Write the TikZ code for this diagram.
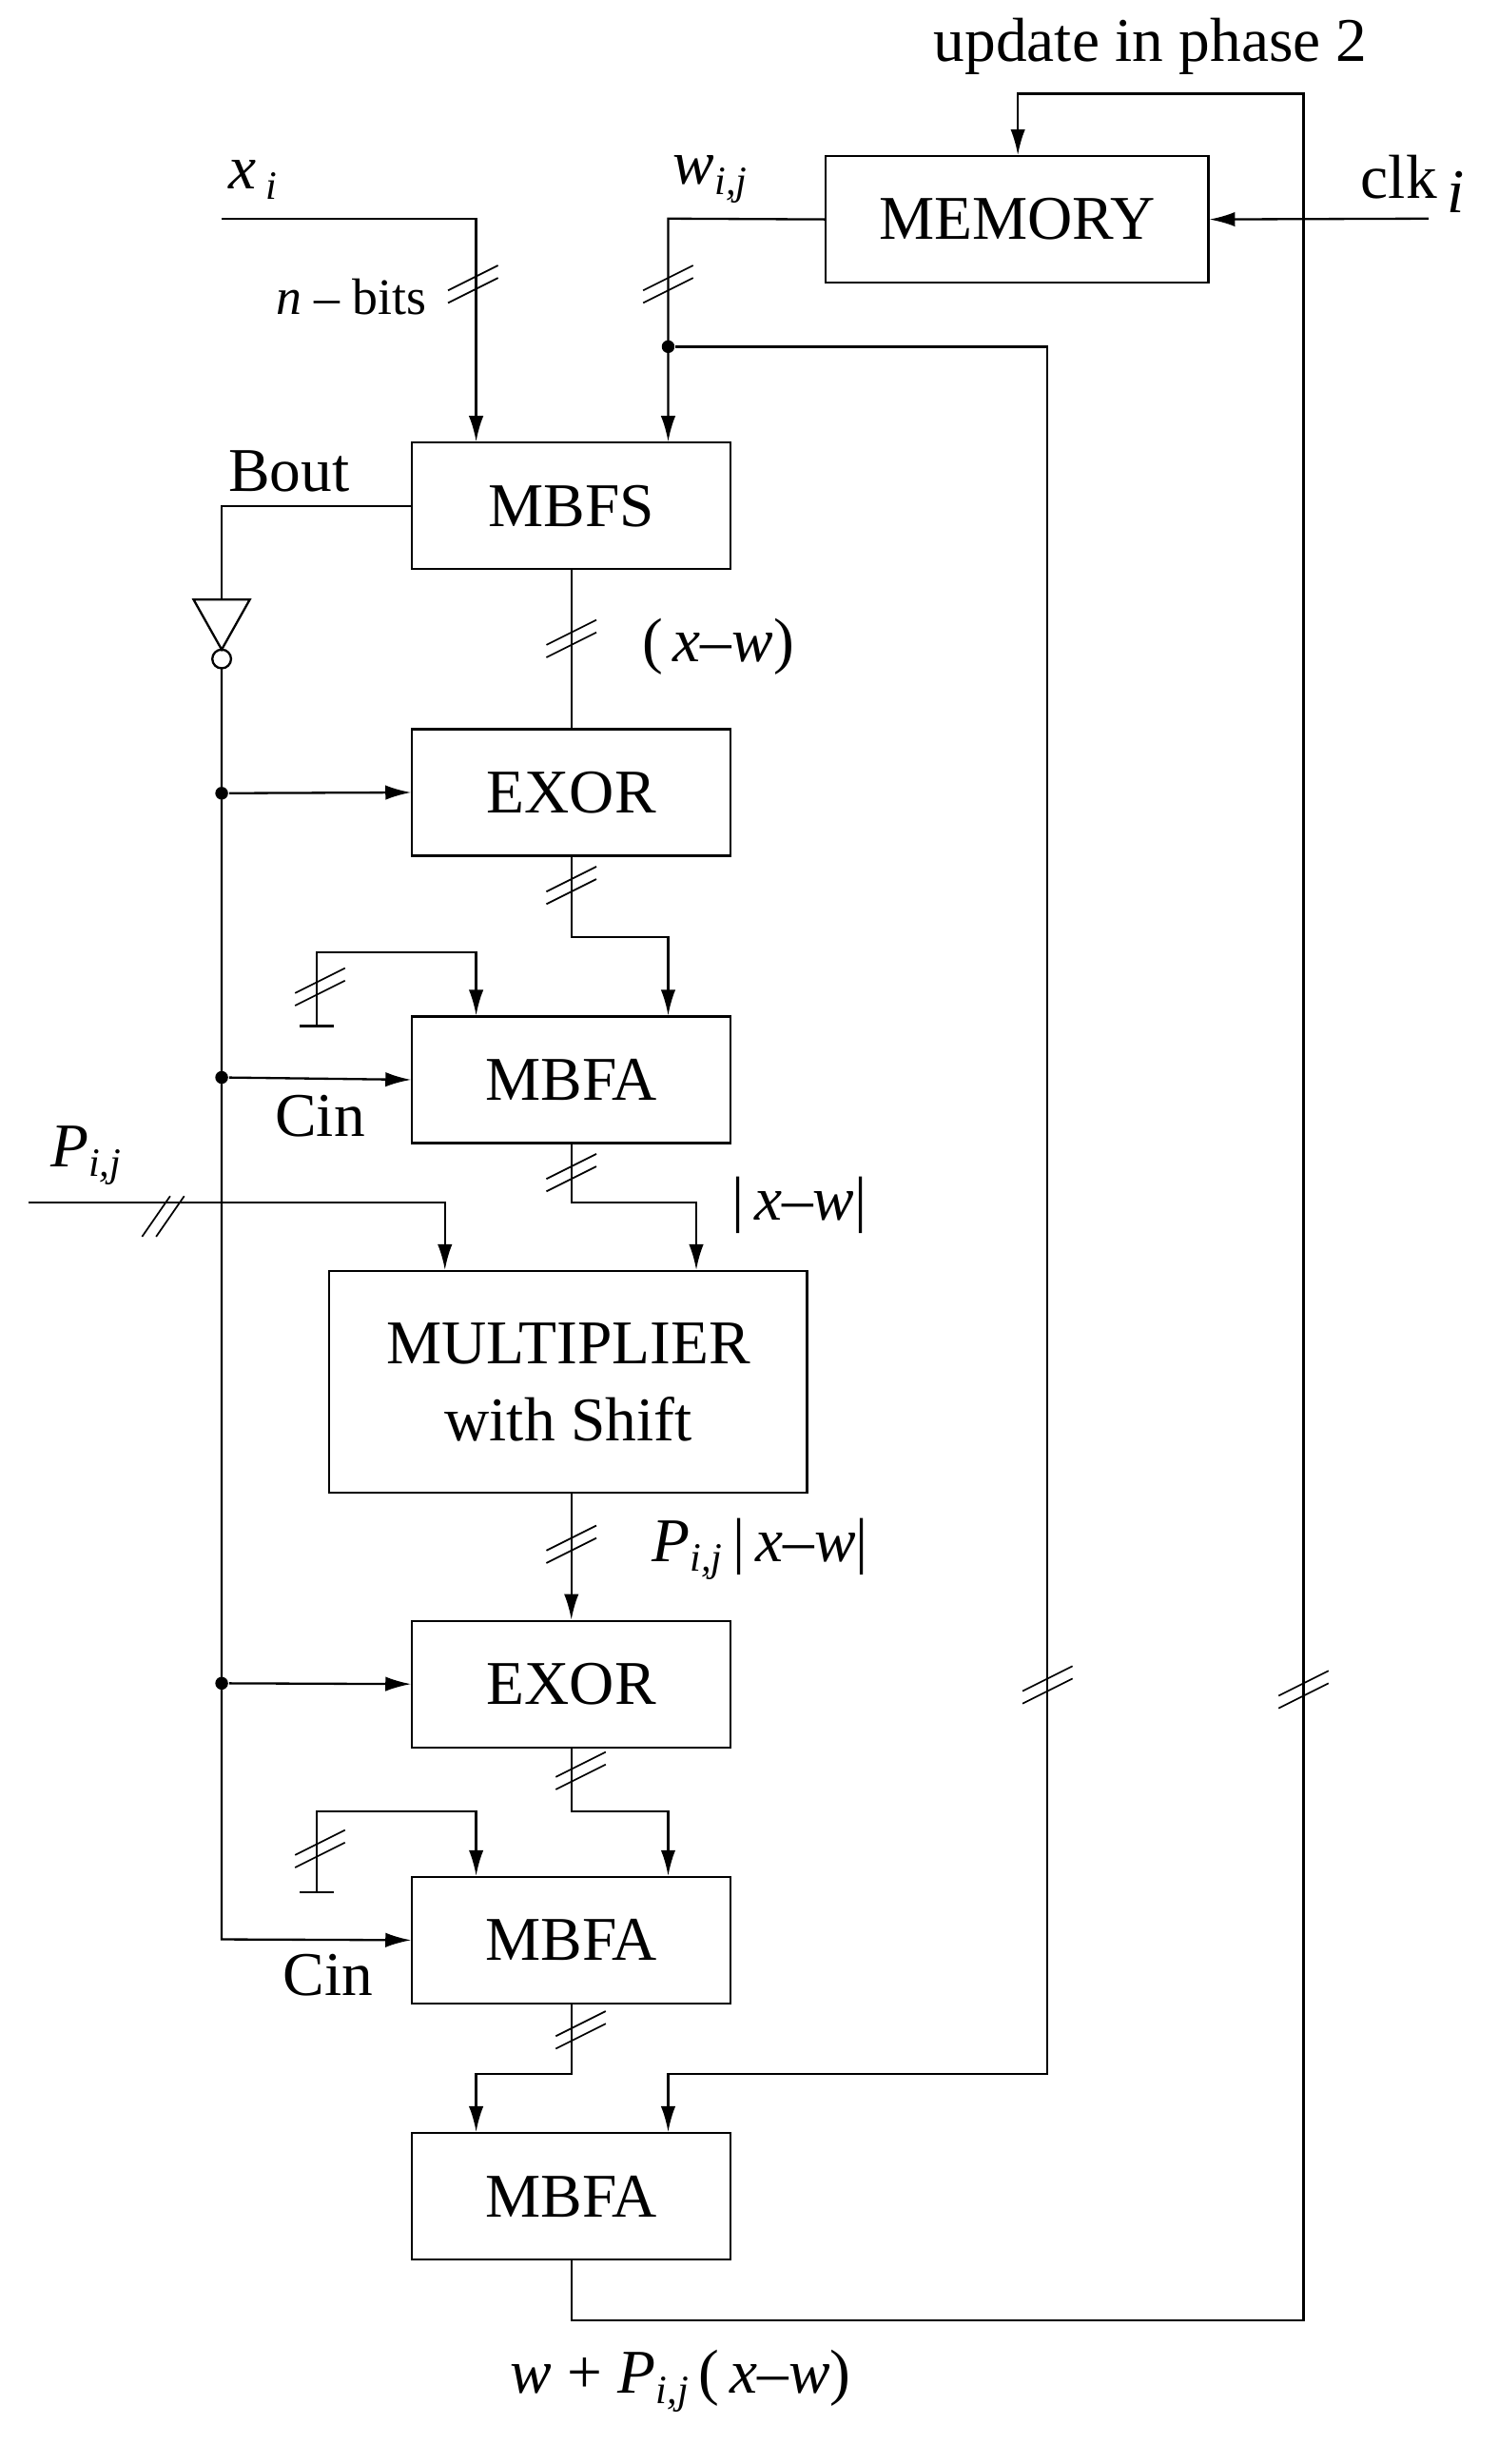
\documentclass[tikz,border=0pt]{standalone}
\usepackage{fontspec}
\setmainfont{Liberation Serif}
\usetikzlibrary{arrows.meta}
\newcommand{\iv}[1]{\textit{#1}}
\newcommand{\sbs}[1]{\raisebox{-0.35ex}{\fontsize{22}{24}\selectfont\textit{#1}}}
\begin{document}
\begin{tikzpicture}[x=0.03cm,y=-0.03cm,line width=1.2pt,
  box/.style={draw,minimum width=204*0.03cm,minimum height=81*0.03cm,inner sep=0pt,font=\fontsize{34}{38}\selectfont},
  lbl/.style={font=\fontsize{34}{38}\selectfont,inner sep=0pt},
  arr/.style={-{Latex[length=14pt,width=8pt]}},
  dot/.style={circle,fill,inner sep=0pt,minimum size=7pt},
  slashv/.pic={\draw[line width=0.9pt] (-16,8)--(16,-8) (-16,16)--(16,0);},
  slashh/.pic={\draw[line width=0.9pt] (-14,14)--(4,-12) (-5,14)--(13,-12);}]
\useasboundingbox (0,0) rectangle (960,1578);
% boxes
\node[box,minimum width=245*0.03cm] (mem) at (651.5,140.5) {MEMORY};
\node[box] (mbfs) at (366,324) {MBFS};
\node[box] (exor1) at (366,507.5) {EXOR};
\node[box] (mbfa1) at (366,691.5) {MBFA};
\node[box,minimum width=306*0.03cm,minimum height=142*0.03cm,align=center] (mult) at (364,885) {MULTIPLIER\\[4pt]with Shift};
\node[box] (exor2) at (366,1078.5) {EXOR};
\node[box] (mbfa2) at (366,1242.5) {MBFA};
\node[box] (mbfa3) at (366,1406.5) {MBFA};
% labels
\node[lbl] (lx) at (162,115) {\iv{x}\,\sbs{i}};
\node[lbl,font=\fontsize{28}{32}\selectfont] (lbits) at (225,190) {\iv{n} -- bits};
\node[lbl] (lw) at (455,115) {\iv{w}\sbs{i,j}};
\node[lbl] (lclk) at (905,118) {clk\,\raisebox{-0.5ex}{\iv{i}}};
\node[lbl] (lupd) at (737,30) {update in phase 2};
\node[lbl] (lbout) at (185,302) {Bout};
\node[lbl] (lxw) at (460,414) {(\,\iv{x}--\iv{w})};
\node[lbl] (lcin1) at (205,715) {Cin};
\node[lbl] (lcin2) at (210,1265) {Cin};
\node[lbl] (labs) at (512,772) {|\,\iv{x}--\iv{w}|};
\node[lbl] (lp) at (55,740) {\iv{P}\sbs{i,j}};
\node[lbl] (lpabs) at (487,992) {\iv{P}\sbs{i,j}\,|\,\iv{x}--\iv{w}|};
\node[lbl] (lout) at (436,1525) {\iv{w} + \iv{P}\sbs{i,j}\,(\,\iv{x}--\iv{w})};
% coordinates
\coordinate (xs) at (142,140);
\coordinate (xc) at (305,140);
\coordinate (wc) at (428,140);
\node[dot] (wd) at (428,222) {};
\coordinate (clks) at (915,140);
% x_i
\draw[arr] (xs) -- (xc) -- (mbfs.north -| xc);
\pic at (303,178) {slashv};
% w
\draw[arr] (mem.west) -- (wc) -- (mbfs.north -| wc);
\pic at (428,178) {slashv};
\draw[arr] (wd) -- (671,222) -- (671,1328) -- (428,1328) -- (mbfa3.north -| wc);
\pic at (671,1075) {slashv};
% clk
\draw[arr] (clks) -- (mem.east);
% update
\draw[arr] (mbfa3.south) -- (366,1486) -- (835,1486) -- (835,60) -- (652,60) -- (mem.north -| 652,0);
\pic at (835,1078) {slashv};
% Bout & inverter
\coordinate (inv) at (142,384);
\draw (mbfs.west) -- (142,324) -- (inv);
\draw (124,384) -- (160,384) -- (142,416) -- cycle;
\draw (142,422) circle (6);
\node[dot] (d1) at (142,508) {};
\node[dot] (d2) at (142,690) {};
\node[dot] (d3) at (142,1078) {};
\draw[arr] (142,428) -- (142,1242) -- (mbfa2.west);
\draw[arr] (d1) -- (exor1.west);
\draw[arr] (d2) -- (mbfa1.west);
\draw[arr] (d3) -- (exor2.west);
% MBFS -> EXOR1
\draw (mbfs.south) -- (exor1.north);
\pic at (366,405) {slashv};
% EXOR1 -> MBFA1
\draw[arr] (exor1.south) -- (366,600) -- (428,600) -- (mbfa1.north -| wc);
\pic at (366,563) {slashv};
% ground 1
\draw[arr] (203,657) -- (203,610) -- (305,610) -- (mbfa1.north -| xc);
\draw (192,657) -- (214,657);
\pic at (205,628) {slashv};
% MBFA1 -> mult
\draw[arr] (mbfa1.south) -- (366,770) -- (446,770) -- (mult.north -| 446,0);
\pic at (366,747) {slashv};
% P_ij
\draw[arr] (18,770) -- (285,770) -- (mult.north -| 285,0);
\pic at (105,778) {slashh};
% mult -> EXOR2
\draw[arr] (mult.south -| exor2.north) -- (exor2.north);
\pic at (366,985) {slashv};
% EXOR2 -> MBFA2
\draw[arr] (exor2.south) -- (366,1160) -- (428,1160) -- (mbfa2.north -| wc);
\pic at (372,1130) {slashv};
% ground 2
\draw[arr] (203,1212) -- (203,1160) -- (305,1160) -- (mbfa2.north -| xc);
\draw (192,1212) -- (214,1212);
\pic at (205,1180) {slashv};
% MBFA2 -> MBFA3
\draw[arr] (mbfa2.south) -- (366,1328) -- (305,1328) -- (mbfa3.north -| xc);
\pic at (372,1296) {slashv};
\end{tikzpicture}
\end{document}
